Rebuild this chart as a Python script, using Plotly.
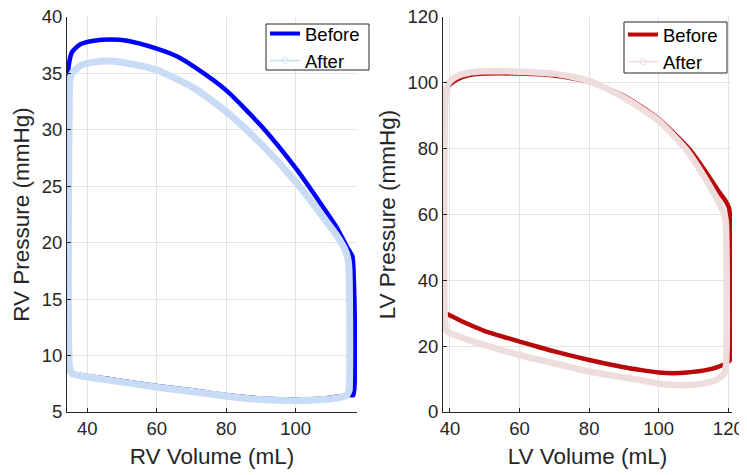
import plotly.graph_objects as go

# ---------------- data ----------------
rv_before_vol = [116.6, 116.6, 116.3, 114.8, 111.9, 107.1, 100.0, 89.9, 80.0, 70.7, 65.9, 60.0, 51.5, 46.7,
                 41.9, 38.1, 35.6, 34.6, 34.4, 34.4, 35.2, 40.0, 46.7, 60.0, 70.7, 80.0, 89.9, 100.0,
                 108.0, 112.9, 115.5, 116.6]
rv_before_p = [6.5, 17.8, 18.8, 19.6, 21.3, 23.5, 26.6, 30.4, 33.5, 35.6, 36.5, 37.2, 37.9, 38.0,
               37.9, 37.6, 36.9, 35.6, 34.3, 9.1, 8.5, 8.2, 7.9, 7.3, 6.9, 6.5, 6.2, 6.1,
               6.2, 6.4, 6.5, 6.5]

rv_after_vol = [115.3, 115.3, 115.0, 114.3, 111.9, 107.1, 100.0, 89.9, 80.0, 70.7, 60.0, 51.5, 46.7,
                41.9, 38.1, 35.8, 35.0, 34.9, 34.9, 35.6, 40.0, 46.7, 60.0, 70.7, 80.0, 89.9, 100.0,
                108.0, 112.9, 114.7, 115.3]
rv_after_p = [6.9, 17.8, 18.6, 19.3, 20.6, 22.6, 25.4, 28.8, 31.6, 33.7, 35.3, 35.9, 36.1,
              36.0, 35.7, 35.1, 34.5, 34.0, 9.0, 8.4, 8.1, 7.8, 7.2, 6.8, 6.4, 6.1, 6.0,
              6.1, 6.3, 6.5, 6.9]

lv_before_vol = [120.5, 120.5, 120.2, 119.3, 117.6, 113.5, 109.0, 100.0, 90.0, 80.0, 70.0, 60.0, 50.0,
                 45.0, 42.0, 40.0, 38.8, 38.3, 38.3, 39.0, 45.0, 50.0, 60.0, 65.9, 70.0, 80.0, 90.0,
                 94.6, 100.0, 104.0, 108.0, 113.8, 118.4, 120.5]
lv_before_p = [15.8, 59.3, 62.0, 64.0, 66.5, 73.0, 79.6, 89.0, 96.0, 100.3, 102.2, 102.8, 102.8,
               102.2, 101.0, 99.5, 97.8, 96.5, 30.0, 29.8, 26.8, 24.6, 21.4, 19.6, 18.4, 15.8, 13.6,
               12.8, 12.0, 11.8, 12.0, 12.8, 14.3, 15.8]

lv_after_vol = [119.3, 119.3, 119.0, 118.5, 116.4, 112.5, 108.0, 100.0, 90.0, 80.0, 70.0, 60.0, 50.0,
                45.0, 42.0, 40.0, 39.0, 38.7, 38.7, 39.2, 45.0, 50.0, 60.0, 65.9, 70.0, 80.0, 90.0,
                94.6, 100.0, 105.0, 109.0, 113.0, 116.4, 118.7, 119.3]
lv_after_p = [13.8, 57.4, 59.5, 61.0, 65.4, 72.5, 79.6, 88.5, 95.5, 100.6, 102.8, 103.4, 103.5,
              103.0, 102.0, 100.5, 98.5, 96.0, 25.5, 24.4, 22.0, 20.3, 17.3, 15.8, 14.8, 12.3, 10.5,
              9.7, 8.6, 8.2, 8.2, 8.7, 9.7, 11.5, 13.8]

rv_x_ticks = [40, 60, 80, 100]
rv_y_ticks = [5, 10, 15, 20, 25, 30, 35, 40]
lv_x_ticks = [40, 60, 80, 100, 120]
lv_y_ticks = [0, 20, 40, 60, 80, 100, 120]

series_names = ["Before", "After"]

# ---------------- styles ----------------
BLUE = "#0000ff"
LBLUE = "#cadcf5"
RED = "#b80a0a"
PINK = "#efdcdc"
AX = "#262626"
GRID = "#e3e3e3"
FONT = "Liberation Sans, Arial, sans-serif"
SM = 0.6

# page body has an 8px margin: lay out in figure pixels = screen pixels - 8
OFF = 8
W, H = 747 - OFF, 475 - OFF


def px(x):
    return (x - OFF) / W


def py(y):
    return 1 - (y - OFF) / H


fig = go.Figure()

# RV loops
fig.add_trace(go.Scatter(x=rv_before_vol, y=rv_before_p, mode="lines",
                         line=dict(color=BLUE, width=4.5, shape="spline", smoothing=SM),
                         showlegend=False, xaxis="x", yaxis="y", hoverinfo="skip"))
fig.add_trace(go.Scatter(x=rv_after_vol, y=rv_after_p, mode="lines",
                         line=dict(color=LBLUE, width=7, shape="spline", smoothing=SM),
                         showlegend=False, xaxis="x", yaxis="y", hoverinfo="skip"))
# LV loops
fig.add_trace(go.Scatter(x=lv_before_vol, y=lv_before_p, mode="lines",
                         line=dict(color=RED, width=4.5, shape="spline", smoothing=SM),
                         showlegend=False, xaxis="x2", yaxis="y2", hoverinfo="skip"))
fig.add_trace(go.Scatter(x=lv_after_vol, y=lv_after_p, mode="lines",
                         line=dict(color=PINK, width=6.5, shape="spline", smoothing=SM),
                         showlegend=False, xaxis="x2", yaxis="y2", hoverinfo="skip"))

# legend entries
fig.add_trace(go.Scatter(x=[None], y=[None], mode="lines", name=series_names[0],
                         line=dict(color=BLUE, width=4), legend="legend", xaxis="x", yaxis="y"))
fig.add_trace(go.Scatter(x=[None], y=[None], mode="lines+markers", name=series_names[1],
                         line=dict(color=LBLUE, width=1.5), marker=dict(symbol="diamond-open", size=6, color=LBLUE),
                         legend="legend", xaxis="x", yaxis="y"))
fig.add_trace(go.Scatter(x=[None], y=[None], mode="lines", name=series_names[0],
                         line=dict(color=RED, width=4), legend="legend2", xaxis="x2", yaxis="y2"))
fig.add_trace(go.Scatter(x=[None], y=[None], mode="lines+markers", name=series_names[1],
                         line=dict(color=PINK, width=1.5), marker=dict(symbol="circle-open", size=6, color=PINK),
                         legend="legend2", xaxis="x2", yaxis="y2"))

axis_common = dict(
    showline=True, linecolor=AX, linewidth=1, mirror=False,
    ticks="inside", ticklen=4, tickcolor=AX, tickwidth=1,
    showgrid=True, gridcolor=GRID, gridwidth=1, zeroline=False,
    tickfont=dict(family=FONT, size=18.5, color=AX), automargin=False,
    ticklabeloverflow="allow",
)
title_font = dict(family=FONT, size=22.5, color=AX)

ydom = [py(412), py(17)]

legend_common = dict(xanchor="left", yanchor="top", bgcolor="rgba(0,0,0,0)", borderwidth=0,
                     font=dict(family=FONT, size=18.5, color="black"), itemwidth=30, tracegroupgap=0)

fig.update_layout(
    width=W, height=H,
    margin=dict(l=0, r=0, t=0, b=0),
    paper_bgcolor="white", plot_bgcolor="white",
    font=dict(family=FONT, color=AX),
    xaxis=dict(domain=[px(67), px(357)], range=[34.15, 117.64], tickvals=rv_x_ticks, anchor="y",
               title=dict(text="RV Volume (mL)", font=title_font, standoff=10), **axis_common),
    yaxis=dict(domain=ydom, range=[5, 40], tickvals=rv_y_ticks, anchor="x",
               title=dict(text="RV Pressure (mmHg)", font=title_font, standoff=5), **axis_common),
    xaxis2=dict(domain=[px(443), px(732)], range=[37.99, 121.06], tickvals=lv_x_ticks, anchor="y2",
                title=dict(text="LV Volume (mL)", font=title_font, standoff=10), **axis_common),
    yaxis2=dict(domain=ydom, range=[0, 120], tickvals=lv_y_ticks, anchor="x2",
                title=dict(text="LV Pressure (mmHg)", font=title_font, standoff=5), **axis_common),
    legend=dict(x=px(265), y=py(15), **legend_common),
    legend2=dict(x=px(623), y=py(16), **legend_common),
    shapes=[
        dict(type="rect", xref="paper", yref="paper", x0=px(266), x1=px(369), y0=py(70), y1=py(24),
             line=dict(color=AX, width=1), fillcolor="white", layer="above"),
        dict(type="rect", xref="paper", yref="paper", x0=px(624), x1=px(727), y0=py(73), y1=py(22),
             line=dict(color=AX, width=1), fillcolor="white", layer="above"),
    ],
)

fig.write_html("out.html")
